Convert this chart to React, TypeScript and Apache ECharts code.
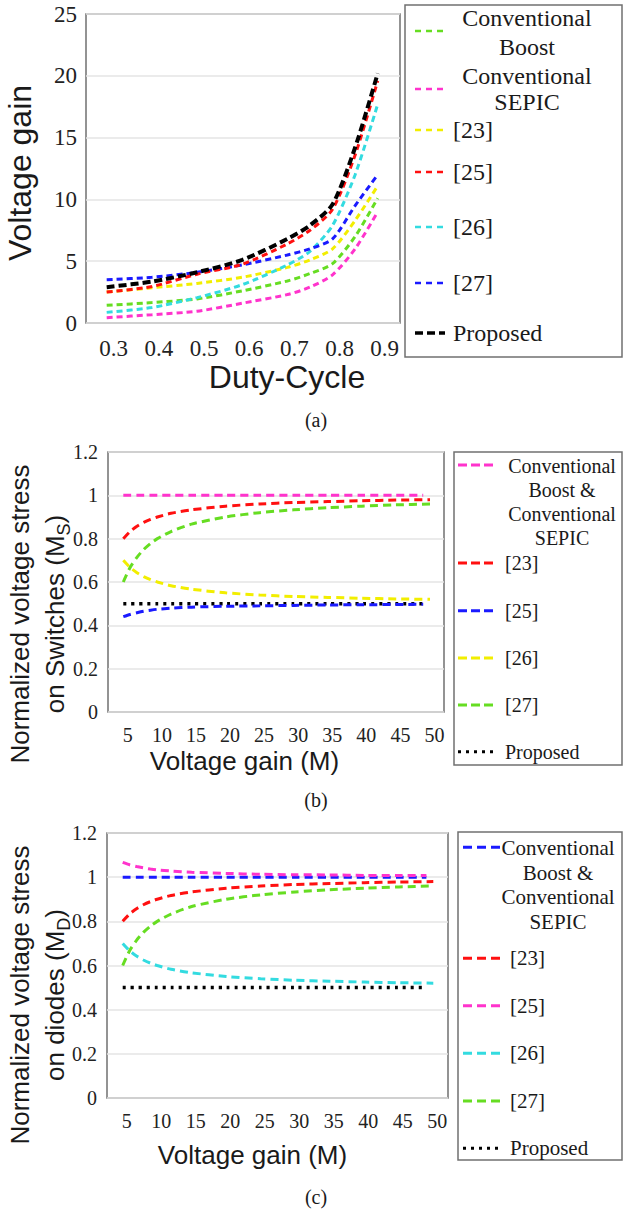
import React, { useEffect, useRef } from "react";
import * as echarts from "echarts";

// ---------- Data ----------
const dutyCycle = [0.3, 0.4, 0.5, 0.6, 0.7, 0.75, 0.8, 0.85, 0.9];
const dutyTicks = [0.3, 0.4, 0.5, 0.6, 0.7, 0.8, 0.9];
const aConvBoost = [1.43, 1.65, 1.95, 2.6, 3.4, 4.0, 4.8, 7.0, 10.1];
const aConvSepic = [0.43, 0.67, 0.95, 1.6, 2.3, 2.9, 3.9, 6.0, 9.0];
const aRef23 = [2.5, 2.85, 3.2, 3.7, 4.5, 5.1, 6.0, 8.3, 11.1];
const aRef25 = [2.5, 2.95, 3.95, 4.75, 6.4, 7.5, 9.2, 13.6, 19.6];
const aRef26 = [0.86, 1.25, 2.05, 3.1, 4.7, 5.8, 7.9, 12.0, 17.7];
const aRef27 = [3.5, 3.7, 4.1, 4.7, 5.5, 6.0, 6.8, 9.5, 12.0];
const aProposed = [2.9, 3.35, 4.1, 5.1, 6.8, 7.9, 9.6, 14.2, 20.2];

const gainM = [5, 6, 7, 8, 9, 10, 12, 15, 20, 25, 30, 35, 40, 45, 50];
const gainMShort = [5, 6, 7, 8, 9, 10, 12, 15, 20, 25, 30, 35, 40, 45, 49];
const gainTicks = [5, 10, 15, 20, 25, 30, 35, 40, 45, 50];

const bConvBoostSepic = [1, 1, 1, 1, 1, 1, 1, 1, 1, 1, 1, 1, 1, 1, 1];
const bRef23 = [0.8, 0.833, 0.857, 0.875, 0.889, 0.9, 0.917, 0.933, 0.95, 0.96, 0.967, 0.971, 0.975, 0.978, 0.98];
const bRef25 = [0.44, 0.45, 0.458, 0.465, 0.47, 0.474, 0.479, 0.484, 0.488, 0.49, 0.492, 0.494, 0.495, 0.496, 0.497];
const bRef26 = [0.7, 0.667, 0.643, 0.625, 0.611, 0.6, 0.583, 0.567, 0.55, 0.54, 0.533, 0.529, 0.525, 0.522, 0.52];
const bRef27 = [0.6, 0.667, 0.714, 0.75, 0.778, 0.8, 0.833, 0.867, 0.9, 0.92, 0.933, 0.943, 0.95, 0.956, 0.96];
const bProposed = [0.5, 0.5, 0.5, 0.5, 0.5, 0.5, 0.5, 0.5, 0.5, 0.5, 0.5, 0.5, 0.5, 0.5, 0.5];

const cConvBoostSepic = [1, 1, 1, 1, 1, 1, 1, 1, 1, 1, 1, 1, 1, 1, 1];
const cRef23 = [0.8, 0.833, 0.857, 0.875, 0.889, 0.9, 0.917, 0.933, 0.95, 0.96, 0.967, 0.971, 0.975, 0.978, 0.98];
const cRef25 = [1.067, 1.056, 1.048, 1.042, 1.037, 1.033, 1.028, 1.022, 1.017, 1.013, 1.011, 1.01, 1.008, 1.007, 1.007];
const cRef26 = [0.7, 0.667, 0.643, 0.625, 0.611, 0.6, 0.583, 0.567, 0.55, 0.54, 0.533, 0.529, 0.525, 0.522, 0.52];
const cRef27 = [0.6, 0.667, 0.714, 0.75, 0.778, 0.8, 0.833, 0.867, 0.9, 0.92, 0.933, 0.943, 0.95, 0.956, 0.96];
const cProposed = [0.5, 0.5, 0.5, 0.5, 0.5, 0.5, 0.5, 0.5, 0.5, 0.5, 0.5, 0.5, 0.5, 0.5, 0.5];

const legendA = ["Conventional\nBoost", "Conventional\nSEPIC", "[23]", "[25]", "[26]", "[27]", "Proposed"];
const legendBC = ["Conventional\nBoost &\nConventional\nSEPIC", "[23]", "[25]", "[26]", "[27]", "Proposed"];

// ---------- Styles ----------
const GREEN = "#66dd22";
const PINK = "#ff33cc";
const YELLOW = "#f2ee00";
const RED = "#ff1010";
const CYAN = "#33dbe0";
const BLUE = "#1a1aff";
const BLACK = "#000000";
const SERIF = "Liberation Serif";
const SANS = "Liberation Sans";
const FRAME = "#707070";
const GRIDC = "#e4e4e4";

const zip = (xs: number[], ys: number[]) => xs.map((x, i) => [x, ys[i]]);

function lineSeries(name: string, idx: number, xs: number[], ys: number[], color: string, width: number, dash: number[], smooth = 0.25) {
  return {
    type: "line",
    name,
    xAxisIndex: idx,
    yAxisIndex: idx,
    data: zip(xs, ys),
    showSymbol: false,
    symbol: "none",
    smooth,
    silent: true,
    lineStyle: { color, width, type: dash, cap: "butt" },
  };
}

function textEl(text: string, x: number, y: number, fontSize: number, fontFamily: string, align = "left", extra: any = {}) {
  return {
    type: "text",
    x,
    y,
    silent: true,
    ...extra,
    style: {
      text,
      fontSize,
      fontFamily,
      fill: "#1a1a1a",
      align,
      verticalAlign: "middle",
      textAlign: align,
      textVerticalAlign: "middle",
      ...(extra.style || {}),
    },
  };
}

function sample(x1: number, x2: number, y: number, color: string, width: number, dash: number[]) {
  return {
    type: "line",
    silent: true,
    shape: { x1, y1: y, x2, y2: y },
    style: { stroke: color, lineWidth: width, lineDash: dash },
  };
}

function box(x: number, y: number, w: number, h: number) {
  return {
    type: "rect",
    silent: true,
    shape: { x, y, width: w, height: h },
    style: { fill: "none", stroke: FRAME, lineWidth: 1.5 },
  };
}

export default function App() {
  const ref = useRef<HTMLDivElement>(null);

  useEffect(() => {
    if (!ref.current) return;
    const chart = echarts.init(ref.current, null, { renderer: "svg" });

    const yAxisCommon = (fontSize: number, margin: number) => ({
      type: "value",
      axisLine: { show: false },
      axisTick: { show: false },
      splitLine: { show: true, lineStyle: { color: GRIDC, width: 1.5 } },
      axisLabel: { fontFamily: SERIF, fontSize, color: "#222", margin },
    });

    const graphics: any[] = [];

    // Panel (a) legend
    graphics.push(box(405, 5, 217, 352));
    const aColors = [GREEN, PINK, YELLOW, RED, CYAN, BLUE, BLACK];
    const aSampleY = [31, 89, 130, 172, 227, 283, 333];
    legendA.forEach((label, i) => {
      const isBlack = i === 6;
      graphics.push(sample(415, 445, aSampleY[i], aColors[i], isBlack ? 3.5 : 2.5, isBlack ? [8, 4] : [6, 5]));
      if (i < 2) {
        graphics.push(textEl(label, 527, i === 0 ? 32.5 : 89, 24, SERIF, "center", { style: { lineHeight: i === 0 ? 29 : 26 } }));
      } else {
        graphics.push(textEl(label, 453, aSampleY[i], 24, SERIF, "left"));
      }
    });

    // Panel (b) legend
    graphics.push(box(454, 452, 168, 313));
    const bColors = [PINK, RED, BLUE, YELLOW, GREEN, BLACK];
    const bSampleY = [465, 563, 610.7, 658, 705, 751.7];
    legendBC.forEach((label, i) => {
      const isBlack = i === 5;
      graphics.push(sample(458, 493, bSampleY[i], bColors[i], 3, isBlack ? [3, 5] : [9, 4]));
      if (i === 0) {
        graphics.push(textEl(label, 562, 502, 20, SERIF, "center", { style: { lineHeight: 24 } }));
      } else {
        graphics.push(textEl(label, 505, bSampleY[i], 20, SERIF, "left"));
      }
    });

    // Panel (c) legend
    graphics.push(box(458, 832, 164, 328));
    const cColors = [BLUE, RED, PINK, CYAN, GREEN, BLACK];
    const cSampleY = [847.3, 958.3, 1005.7, 1053.3, 1101, 1148.3];
    legendBC.forEach((label, i) => {
      const isBlack = i === 5;
      graphics.push(sample(463, 500, cSampleY[i], cColors[i], 3, isBlack ? [3, 5] : [9, 5]));
      if (i === 0) {
        graphics.push(textEl(label, 558, 885, 21, SERIF, "center", { style: { lineHeight: 24.5 } }));
      } else {
        graphics.push(textEl(label, 510, cSampleY[i], 21, SERIF, "left"));
      }
    });

    // Y-axis titles (rotated)
    graphics.push(textEl("Voltage gain", 20, 173, 32, SANS, "center", { rotation: Math.PI / 2 }));
    const subRich = { s: { fontSize: 18, fontFamily: SANS, fill: "#1a1a1a", verticalAlign: "bottom", padding: [10, 0, 0, 0] } };
    graphics.push(
      textEl("Normalized voltage stress\non Switches (M{s|S})", 37.5, 614, 26, SANS, "center", {
        rotation: Math.PI / 2,
        style: { lineHeight: 35, rich: subRich },
      })
    );
    graphics.push(
      textEl("Normalized voltage stress\non diodes (M{s|D})", 37.5, 995, 26, SANS, "center", {
        rotation: Math.PI / 2,
        style: { lineHeight: 35, rich: subRich },
      })
    );

    // Captions
    graphics.push(textEl("(a)", 316, 420, 20, SERIF, "center"));
    graphics.push(textEl("(b)", 316, 800, 20, SERIF, "center"));
    graphics.push(textEl("(c)", 316, 1197, 20, SERIF, "center"));

    const option: any = {
      animation: false,
      backgroundColor: "#ffffff",
      textStyle: { fontFamily: SERIF },
      grid: [
        { left: 86, top: 14, width: 314, height: 309, show: true, borderColor: FRAME, borderWidth: 1.5, backgroundColor: "transparent" },
        { left: 108, top: 452, width: 336, height: 260, show: true, borderColor: FRAME, borderWidth: 1.5, backgroundColor: "transparent" },
        { left: 107, top: 833, width: 341, height: 265, show: true, borderColor: FRAME, borderWidth: 1.5, backgroundColor: "transparent" },
      ],
      xAxis: [
        {
          type: "value",
          gridIndex: 0,
          min: 0.2542,
          max: 0.9493,
          axisLine: { show: false },
          axisTick: { show: false },
          splitLine: { show: false },
          axisLabel: {
            customValues: dutyTicks,
            formatter: (v: number) => v.toFixed(1),
            fontFamily: SERIF,
            fontSize: 23,
            color: "#222",
            margin: 14,
            padding: [0, 0, 0, 14],
          },
          name: "Duty-Cycle",
          nameLocation: "middle",
          nameGap: 38,
          nameTextStyle: { fontFamily: SANS, fontSize: 32, color: "#1a1a1a", padding: [0, 0, 0, 88] },
        },
        {
          type: "value",
          gridIndex: 1,
          min: 2.755,
          max: 52.05,
          axisLine: { show: false },
          axisTick: { show: false },
          splitLine: { show: false },
          axisLabel: {
            customValues: gainTicks,
            fontFamily: SERIF,
            fontSize: 20,
            color: "#222",
            margin: 13,
            padding: [0, 0, 0, 9],
          },
          name: "Voltage gain (M)",
          nameLocation: "middle",
          nameGap: 36,
          nameTextStyle: { fontFamily: SANS, fontSize: 26, color: "#1a1a1a", padding: [0, 63, 0, 0] },
        },
        {
          type: "value",
          gridIndex: 2,
          min: 2.725,
          max: 52.13,
          axisLine: { show: false },
          axisTick: { show: false },
          splitLine: { show: false },
          axisLabel: {
            customValues: gainTicks,
            fontFamily: SERIF,
            fontSize: 20,
            color: "#222",
            margin: 13,
            padding: [0, 0, 0, 8],
          },
          name: "Voltage gain (M)",
          nameLocation: "middle",
          nameGap: 44,
          nameTextStyle: { fontFamily: SANS, fontSize: 26, color: "#1a1a1a", padding: [0, 50, 0, 0] },
        },
      ],
      yAxis: [
        { ...yAxisCommon(23, 9), gridIndex: 0, min: 0, max: 25, interval: 5 },
        { ...yAxisCommon(20, 10), gridIndex: 1, min: 0, max: 1.2, interval: 0.2 },
        { ...yAxisCommon(20, 10), gridIndex: 2, min: 0, max: 1.2, interval: 0.2 },
      ],
      series: [
        lineSeries("Conventional Boost", 0, dutyCycle, aConvBoost, GREEN, 3, [6, 4]),
        lineSeries("Conventional SEPIC", 0, dutyCycle, aConvSepic, PINK, 3, [6, 4]),
        lineSeries("[23]", 0, dutyCycle, aRef23, YELLOW, 3, [6, 4]),
        lineSeries("[26]", 0, dutyCycle, aRef26, CYAN, 3, [6, 4]),
        lineSeries("[27]", 0, dutyCycle, aRef27, BLUE, 3, [6, 4]),
        lineSeries("[25]", 0, dutyCycle, aRef25, RED, 3, [6, 4]),
        lineSeries("Proposed", 0, dutyCycle, aProposed, BLACK, 4, [8, 4]),

        lineSeries("Conventional Boost & Conventional SEPIC", 1, gainMShort, bConvBoostSepic, PINK, 3, [8, 5]),
        lineSeries("[23]", 1, gainM, bRef23, RED, 3, [8, 5]),
        lineSeries("[26]", 1, gainM, bRef26, YELLOW, 3, [8, 5]),
        lineSeries("[27]", 1, gainM, bRef27, GREEN, 3, [8, 5]),
        lineSeries("Proposed", 1, gainMShort, bProposed, BLACK, 3.5, [3, 5]),
        lineSeries("[25]", 1, gainMShort, bRef25, BLUE, 3, [8, 5]),

        lineSeries("Conventional Boost & Conventional SEPIC", 2, gainMShort, cConvBoostSepic, BLUE, 3, [8, 5]),
        lineSeries("[25]", 2, gainMShort, cRef25, PINK, 3, [8, 5]),
        lineSeries("[23]", 2, gainM, cRef23, RED, 3, [8, 5]),
        lineSeries("[26]", 2, gainM, cRef26, CYAN, 3, [8, 5]),
        lineSeries("[27]", 2, gainM, cRef27, GREEN, 3, [8, 5]),
        lineSeries("Proposed", 2, gainMShort, cProposed, BLACK, 3.5, [3, 5]),
      ],
      graphic: { elements: graphics },
    };

    chart.setOption(option);
    return () => chart.dispose();
  }, []);

  return (
    <div
      ref={ref}
      style={{ position: "absolute", left: 0, top: 0, width: 625, height: 1210, background: "#fff" }}
    />
  );
}
